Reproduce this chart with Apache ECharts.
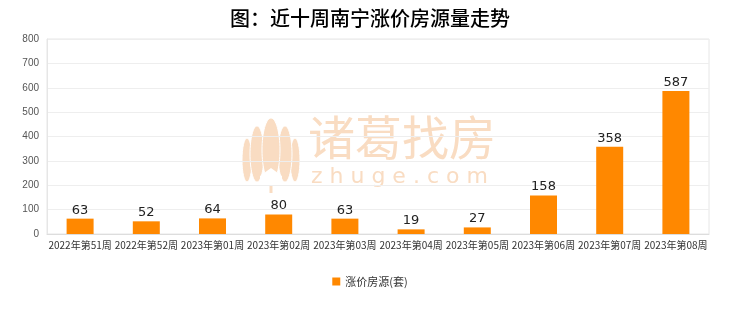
<!DOCTYPE html>
<html><head><meta charset="utf-8">
<script src="https://cdn.jsdelivr.net/npm/echarts@6/dist/echarts.min.js"></script>
<style>html,body{margin:0;padding:0;background:#fff}#c{width:740px;height:312px}</style>
</head><body><div id="c"></div>
<script>
var categories = ['2022年第51周','2022年第52周','2023年第01周','2023年第02周','2023年第03周','2023年第04周','2023年第05周','2023年第06周','2023年第07周','2023年第08周'];
var values = [63,52,64,80,63,19,27,158,358,587];
var seriesName = '涨价房源(套)';
var titleText = '图：近十周南宁涨价房源量走势';
var wm = '#f9dcc2';
var chart = echarts.init(document.getElementById('c'));
chart.setOption({
  animation:false,
  title:{text:titleText,left:'center',top:3,textStyle:{fontFamily:'Noto Sans CJK SC',fontSize:20,fontWeight:500,color:'#000'}},
  graphic:[
    {type:'group',z:-10,children:[
      {type:'ellipse',shape:{cx:247,cy:160,rx:5,ry:22},style:{fill:wm,stroke:'#fff',lineWidth:1}},
      {type:'ellipse',shape:{cx:295,cy:160,rx:5,ry:22},style:{fill:wm,stroke:'#fff',lineWidth:1}},
      {type:'ellipse',shape:{cx:257,cy:154,rx:7,ry:28},style:{fill:wm,stroke:'#fff',lineWidth:1}},
      {type:'ellipse',shape:{cx:285,cy:154,rx:7,ry:28},style:{fill:wm,stroke:'#fff',lineWidth:1}},
      {type:'ellipse',shape:{cx:271,cy:150,rx:9,ry:32},style:{fill:wm,stroke:'#fff',lineWidth:1}},
      {type:'polygon',shape:{points:[[260,176],[271,168],[282,176],[282,186],[260,186]]},style:{fill:'#fff'}},
      {type:'rect',shape:{x:269.5,y:186,width:3,height:7},style:{fill:wm}},
      {type:'text',left:308,top:114,style:{text:'诸葛找房',font:'normal 47px "Noto Sans CJK SC"',fill:wm}},
      {type:'text',left:311,top:166,style:{text:'z h u g e . c o m',font:'22px "DejaVu Sans"',fill:wm}}
    ]}
  ],
  grid:{left:47,right:31,top:39,bottom:78,show:true,borderColor:'#e6e6e6',borderWidth:1},
  legend:{bottom:20,left:'center',itemWidth:8,itemHeight:8,icon:'rect',textStyle:{fontSize:11,color:'#333',fontFamily:'Noto Sans CJK SC'},data:[seriesName]},
  xAxis:{type:'category',data:categories,axisTick:{show:false},axisLine:{lineStyle:{color:'#ddd'}},
    axisLabel:{fontSize:10,color:'#333',interval:0,margin:6,fontFamily:'Noto Sans CJK SC'}},
  yAxis:{type:'value',min:0,max:800,interval:100,axisLine:{show:true,lineStyle:{color:'#e6e6e6'}},
    axisLabel:{fontSize:10,color:'#555',margin:8},splitLine:{lineStyle:{color:'#eeeeee'}}},
  series:[{name:seriesName,type:'bar',data:values,barWidth:27,itemStyle:{color:'#FF8800'},
    label:{show:true,position:'top',fontSize:13,color:'#222',distance:2,fontFamily:'DejaVu Sans'}}]
});
</script></body></html>
